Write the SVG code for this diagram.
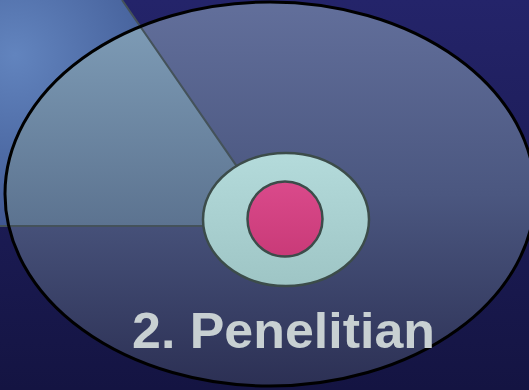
<svg xmlns="http://www.w3.org/2000/svg" width="529" height="390" viewBox="0 0 529 390">
  <defs>
    <linearGradient id="bg" x1="0" y1="0" x2="0" y2="1">
      <stop offset="0" stop-color="#24246a"/>
      <stop offset="1" stop-color="#141442"/>
    </linearGradient>
    <radialGradient id="wedgeOut" cx="15" cy="55" r="200" gradientUnits="userSpaceOnUse">
      <stop offset="0" stop-color="#6284be"/>
      <stop offset="0.6" stop-color="#4a66a0"/>
      <stop offset="1" stop-color="#3a4e88"/>
    </radialGradient>
    <linearGradient id="bigFill" x1="0" y1="2" x2="0" y2="386" gradientUnits="userSpaceOnUse">
      <stop offset="0" stop-color="#626f9b"/>
      <stop offset="0.5" stop-color="#4b5780"/>
      <stop offset="1" stop-color="#2c3054"/>
    </linearGradient>
    <linearGradient id="wedgeIn" x1="0" y1="20" x2="0" y2="226" gradientUnits="userSpaceOnUse">
      <stop offset="0" stop-color="#7e9cb6"/>
      <stop offset="1" stop-color="#5c7390"/>
    </linearGradient>
    <linearGradient id="cyanFill" x1="0" y1="0" x2="0" y2="1">
      <stop offset="0" stop-color="#b4dbdb"/>
      <stop offset="1" stop-color="#9ec5c5"/>
    </linearGradient>
    <linearGradient id="pinkFill" x1="0" y1="0" x2="0" y2="1">
      <stop offset="0" stop-color="#da4a8b"/>
      <stop offset="1" stop-color="#c93a78"/>
    </linearGradient>
    <clipPath id="bigClip">
      <ellipse cx="270" cy="194" rx="265" ry="192"/>
    </clipPath>
    <style>
      .outline { stroke: #3c4c4a; stroke-width: 2.5; }
      .title { font-family: "Liberation Sans", Arial, sans-serif; font-weight: bold; fill: #c8d0d2; }
    </style>
  </defs>

  <rect id="background" x="0" y="0" width="529" height="390" fill="url(#bg)"/>

  <g id="wedge">
    <polygon points="0,0 122,0 278,226 0,226" fill="url(#wedgeOut)"/>
  </g>

  <g id="big-ellipse">
    <ellipse cx="270" cy="194" rx="265" ry="192" fill="url(#bigFill)"/>
    <polygon points="0,0 122,0 278,226 0,226" fill="url(#wedgeIn)" clip-path="url(#bigClip)"/>
  </g>

  <g id="connectors">
    <polyline points="0,226 278,226 122,0" fill="none" stroke="#44525a" stroke-width="2"/>
  </g>

  <g id="big-ellipse-outline">
    <ellipse cx="270" cy="194" rx="265" ry="192" fill="none" stroke="#000" stroke-width="3"/>
  </g>

  <g id="outer-ring">
    <ellipse class="outline" cx="286" cy="219.5" rx="83" ry="66.5" fill="url(#cyanFill)"/>
  </g>

  <g id="core">
    <circle class="outline" cx="285" cy="219" r="37.5" fill="url(#pinkFill)"/>
  </g>

  <g id="label">
    <text class="title" x="132" y="348" font-size="50" textLength="303" lengthAdjust="spacingAndGlyphs">2. Penelitian</text>
  </g>
</svg>
